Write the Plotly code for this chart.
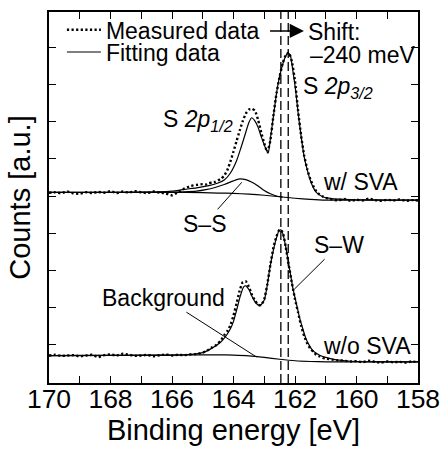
import plotly.graph_objects as go

# ---------------- data ----------------
energy_meas = [170.0, 169.8, 169.6, 169.4, 169.2, 169.0, 168.8, 168.6, 168.4, 168.2,
               168.0, 167.8, 167.6, 167.4, 167.2, 167.0, 166.8, 166.6, 166.4, 166.2,
               166.0, 165.8, 165.6, 165.4, 165.2, 165.0,
               164.9, 164.8, 164.7, 164.6, 164.5, 164.4, 164.3, 164.2, 164.1, 164.0,
               163.9, 163.8, 163.7, 163.6, 163.5, 163.4, 163.3, 163.2, 163.1, 163.0,
               162.9, 162.8, 162.7, 162.6, 162.5, 162.4, 162.3, 162.2, 162.1, 162.0,
               161.9, 161.8, 161.7, 161.6, 161.5, 161.4, 161.3, 161.2, 161.1, 161.0,
               160.8, 160.6, 160.4, 160.2, 160.0, 159.8, 159.6, 159.4, 159.2, 159.0,
               158.8, 158.6, 158.4, 158.2, 158.0]

meas_sva = [5.09, 5.10, 5.08, 5.12, 5.07, 5.06, 5.10, 5.08, 5.11, 5.09,
            5.13, 5.08, 5.12, 5.09, 5.13, 5.10, 5.08, 5.12, 5.09, 5.07,
            5.02, 5.10, 5.20, 5.27, 5.30, 5.32,
            5.31, 5.35, 5.36, 5.38, 5.42, 5.47, 5.55, 5.70, 5.93, 6.20,
            6.48, 6.76, 7.02, 7.22, 7.33, 7.35, 7.30, 7.05, 6.72, 6.42,
            6.18, 6.50, 7.18, 7.78, 8.22, 8.58, 8.80, 8.87, 8.62, 8.10,
            7.30, 6.62, 6.08, 5.72, 5.45, 5.26, 5.12, 5.04, 4.99, 4.95,
            4.91, 4.88, 4.92, 4.87, 4.90, 4.88, 4.93, 4.89, 4.87, 4.90,
            4.88, 4.91, 4.87, 4.89, 4.88]

meas_nosva = [0.70, 0.72, 0.69, 0.70, 0.71, 0.68, 0.70, 0.72, 0.66, 0.71,
              0.73, 0.70, 0.75, 0.72, 0.69, 0.70, 0.72, 0.68, 0.71, 0.73,
              0.70, 0.72, 0.71, 0.73, 0.74, 0.78,
              0.81, 0.86, 0.92, 0.96, 1.03, 1.12, 1.25, 1.36, 1.52, 1.78,
              2.10, 2.45, 2.68, 2.70, 2.55, 2.34, 2.18, 2.07, 2.06, 2.22,
              2.62, 3.15, 3.62, 3.92, 4.10, 4.02, 3.62, 3.12, 2.65, 2.22,
              1.86, 1.50, 1.22, 1.02, 0.88, 0.80, 0.72, 0.68, 0.64, 0.62,
              0.59, 0.57, 0.56, 0.54, 0.55, 0.52, 0.56, 0.53, 0.51, 0.54,
              0.52, 0.53, 0.51, 0.54, 0.52]

fit_sva_x = [170.0, 168.0, 166.5, 166.0, 165.6, 165.2, 164.8, 164.5, 164.3, 164.1,
             163.9, 163.75, 163.6, 163.5, 163.41, 163.3, 163.2, 163.1, 163.0, 162.92,
             162.87, 162.8, 162.71, 162.63, 162.55, 162.47, 162.39, 162.31, 162.23, 162.15,
             162.07, 161.98, 161.9, 161.8, 161.7, 161.6, 161.5, 161.4, 161.3, 161.1,
             160.8, 160.4, 160.0, 159.0, 158.0]
fit_sva_y = [5.10, 5.10, 5.11, 5.13, 5.18, 5.22, 5.28, 5.35, 5.43, 5.62,
             5.95, 6.32, 6.72, 6.98, 7.11, 7.02, 6.85, 6.60, 6.38, 6.22,
             6.16, 6.55, 7.10, 7.60, 8.02, 8.33, 8.58, 8.76, 8.86, 8.78,
             8.38, 7.85, 7.25, 6.60, 6.05, 5.70, 5.42, 5.22, 5.09, 4.98,
             4.93, 4.91, 4.90, 4.89, 4.89]

ss_sva_x = [166.0, 165.6, 165.2, 164.9, 164.6, 164.3, 164.0, 163.8, 163.6, 163.4,
            163.2, 163.0, 162.8, 162.6, 162.4]
ss_sva_y = [5.10, 5.11, 5.13, 5.17, 5.23, 5.31, 5.41, 5.46, 5.44, 5.37,
            5.27, 5.15, 5.06, 5.00, 4.97]

bg_sva_x = [170.0, 166.0, 165.0, 164.5, 164.0, 163.5, 163.0, 162.5, 162.0, 161.5, 161.0, 160.0, 158.0]
bg_sva_y = [5.10, 5.10, 5.09, 5.08, 5.07, 5.05, 5.02, 4.98, 4.94, 4.91, 4.89, 4.89, 4.89]

fit_nosva_x = [170.0, 166.0, 165.4, 165.0, 164.74, 164.42, 164.25, 164.1, 164.0, 163.89,
               163.78, 163.67, 163.6, 163.5, 163.4, 163.3, 163.14, 163.0, 162.9, 162.82,
               162.7, 162.61, 162.53, 162.47, 162.4, 162.29, 162.18, 162.07, 161.96, 161.86,
               161.75, 161.65, 161.54, 161.43, 161.2, 161.0, 160.7, 160.37, 160.0, 159.0, 158.0]
fit_nosva_y = [0.70, 0.71, 0.73, 0.78, 0.88, 1.06, 1.22, 1.42, 1.62, 1.95,
               2.30, 2.55, 2.58, 2.48, 2.30, 2.15, 2.04, 2.20, 2.60, 3.05,
               3.55, 3.85, 4.05, 4.09, 4.00, 3.58, 3.05, 2.52, 2.12, 1.75,
               1.43, 1.17, 0.98, 0.84, 0.71, 0.65, 0.59, 0.56, 0.54, 0.53, 0.53]

bg_nosva_x = [170.0, 166.0, 165.0, 164.5, 164.0, 163.5, 163.0, 162.5, 162.0, 161.5, 161.0, 160.0, 158.0]
bg_nosva_y = [0.70, 0.71, 0.72, 0.72, 0.71, 0.69, 0.65, 0.60, 0.56, 0.54, 0.53, 0.53, 0.53]

shift_positions = [162.46, 162.22]   # S 2p3/2 peak positions (w/o, w/ SVA)
shift_arrow = [162.86, 161.71]       # arrow start / end (eV)

x_tick_vals = [170, 169, 168, 167, 166, 165, 164, 163, 162, 161, 160, 159, 158]
x_tick_text = ["170", " ", "168", " ", "166", " ", "164", " ", "162", " ", "160", " ", "158"]
y_tick_vals = [1, 2, 3, 4, 5, 6, 7, 8, 9]

# ---------------- figure ----------------
FONT = "Liberation Sans, Arial, Helvetica, sans-serif"
fit_line = dict(color="black", width=1.2, shape="spline", smoothing=0.6)
meas_line = dict(color="black", width=2.4, dash="2.2px,2.4px", shape="spline", smoothing=0.4)

fig = go.Figure()

fig.add_trace(go.Scatter(x=bg_sva_x, y=bg_sva_y, mode="lines", line=fit_line, showlegend=False))
fig.add_trace(go.Scatter(x=ss_sva_x, y=ss_sva_y, mode="lines", line=fit_line, showlegend=False))
fig.add_trace(go.Scatter(x=fit_sva_x, y=fit_sva_y, mode="lines", line=fit_line,
                         name="Fitting data", legend="legend2"))
fig.add_trace(go.Scatter(x=bg_nosva_x, y=bg_nosva_y, mode="lines", line=fit_line, showlegend=False))
fig.add_trace(go.Scatter(x=fit_nosva_x, y=fit_nosva_y, mode="lines", line=fit_line, showlegend=False))
fig.add_trace(go.Scatter(x=energy_meas, y=meas_sva, mode="lines", line=meas_line,
                         name="Measured data", legend="legend"))
fig.add_trace(go.Scatter(x=energy_meas, y=meas_nosva, mode="lines", line=meas_line, showlegend=False))

for xv in shift_positions:
    fig.add_shape(type="line", xref="x", yref="paper", x0=xv, x1=xv, y0=0, y1=1,
                  line=dict(color="black", width=1.3, dash="9px,4px"))

ann_font = dict(family=FONT, size=23, color="black")

# shift arrow
fig.add_annotation(x=shift_arrow[1], y=9.45, ax=shift_arrow[0], ay=9.45,
                   xref="x", yref="y", axref="x", ayref="y", text="",
                   showarrow=True, arrowhead=2, arrowsize=1.9, arrowwidth=1.5, arrowcolor="black")

texts = [
    ("Shift:", 161.65, 9.43, "left"),
    ("–240 meV", 161.59, 8.79, "left"),
    ("S <i>2p<sub>3/2</sub></i>", 161.81, 7.93, "left"),
    ("w/ SVA", 161.17, 5.37, "left"),
    ("w/o SVA", 161.17, 0.97, "left"),
    ("S <i>2p<sub>1/2</sub></i>", 163.95, 7.03, "right"),
]
for t, xv, yv, anc in texts:
    fig.add_annotation(x=xv, y=yv, xref="x", yref="y", text=t, showarrow=False,
                       xanchor=anc, yanchor="middle", font=ann_font)

# labels with leader lines
leaders = [
    ("S–S", 163.73, 5.37, 164.94, 4.25),
    ("S–W", 162.02, 2.49, 160.56, 3.69),
    ("Background", 163.25, 0.66, 166.27, 2.26),
]
for t, xv, yv, axv, ayv in leaders:
    fig.add_annotation(x=xv, y=yv, ax=axv, ay=ayv, xref="x", yref="y", axref="x", ayref="y",
                       text=t, showarrow=True, arrowhead=0, arrowwidth=1, arrowcolor="black",
                       standoff=0, startstandoff=0, font=ann_font)

legend_common = dict(xanchor="left", yanchor="middle", font=dict(family=FONT, size=23),
                     bgcolor="rgba(0,0,0,0)", itemwidth=34, borderwidth=0)

fig.update_layout(
    width=448, height=455,
    margin=dict(l=49, r=24, t=8, b=72),
    paper_bgcolor="white", plot_bgcolor="white",
    font=dict(family=FONT, color="black"),
    legend=dict(x=0.035, y=0.952, **legend_common),
    legend2=dict(x=0.035, y=0.892, **legend_common),
    xaxis=dict(range=[170, 158], tickmode="array", tickvals=x_tick_vals, ticktext=x_tick_text,
               ticks="inside", ticklen=7, tickwidth=1.3, tickcolor="black",
               showline=True, linecolor="black", linewidth=1.5, mirror="ticks",
               showgrid=False, zeroline=False, ticklabelstandoff=-9,
               tickfont=dict(family=FONT, size=26.5),
               title=dict(text="Binding energy [eV]", font=dict(family=FONT, size=29), standoff=1)),
    yaxis=dict(range=[-0.04, 9.96], tickmode="array", tickvals=y_tick_vals,
               ticks="inside", ticklen=7, tickwidth=1.3, tickcolor="black",
               showticklabels=False,
               showline=True, linecolor="black", linewidth=1.5, mirror="ticks",
               showgrid=False, zeroline=False,
               title=dict(text="Counts [a.u.]", font=dict(family=FONT, size=29), standoff=8)),
)

fig.write_html("out.html")
